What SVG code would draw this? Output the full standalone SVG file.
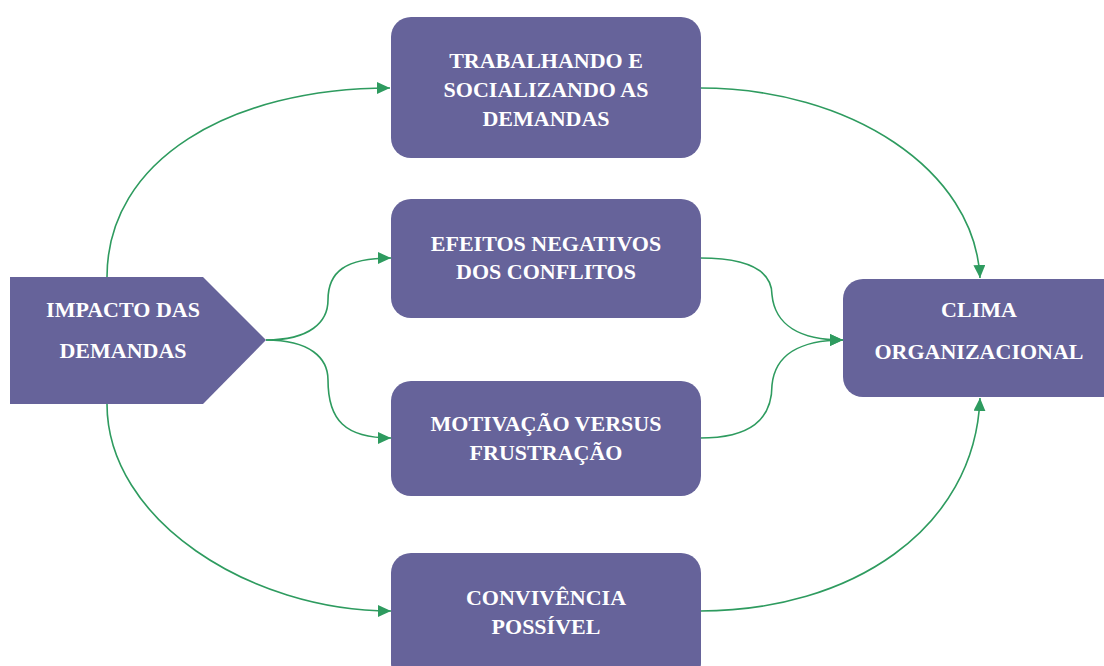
<svg xmlns="http://www.w3.org/2000/svg" width="1104" height="666" viewBox="0 0 1104 666">
<style>
.node{fill:#66639A}
.lbl{font-family:"Liberation Serif","Times New Roman",serif;font-weight:bold;font-size:22px;fill:#ffffff;text-anchor:middle}
.con{fill:none;stroke:#2E9B5F;stroke-width:1.6}
</style>
<defs>
<marker id="arr" markerWidth="14" markerHeight="12" refX="13" refY="6" orient="auto" markerUnits="userSpaceOnUse">
<path d="M0,0 L13,6 L0,12 Z" fill="#2E9B5F"/>
</marker>
</defs>
<rect width="1104" height="666" fill="#ffffff"/>
<g id="connectors">
<path class="con" marker-end="url(#arr)" d="M107,277 C107,160 230,88 390,88"/>
<path class="con" marker-end="url(#arr)" d="M700,88 C850,88 975,170 980,278"/>
<path class="con" marker-end="url(#arr)" d="M266,340 C310,340 328,322 328,300 C328,272 345,258 391,258"/>
<path class="con" marker-end="url(#arr)" d="M266,340 C310,340 328,358 328,380 C328,420 345,438 391,438"/>
<path class="con" marker-end="url(#arr)" d="M700,258 C750,258 772,272 772,295 C775,325 800,340 843,340"/>
<path class="con" marker-end="url(#arr)" d="M700,438 C750,438 772,420 772,385 C775,355 800,340 843,340"/>
<path class="con" marker-end="url(#arr)" d="M107,404 C107,520 250,611 391,611"/>
<path class="con" marker-end="url(#arr)" d="M700,611 C850,611 975,530 980,398"/>
</g>
<g id="impacto">
<polygon class="node" points="10,277 203,277 266,340 203,404 10,404"/>
<text class="lbl" x="123" y="317">IMPACTO DAS</text>
<text class="lbl" x="123" y="358">DEMANDAS</text>
</g>
<g id="trabalhando">
<rect class="node" x="391" y="17" width="310" height="141" rx="20"/>
<text class="lbl" x="546" y="68">TRABALHANDO E</text>
<text class="lbl" x="546" y="97">SOCIALIZANDO AS</text>
<text class="lbl" x="546" y="126">DEMANDAS</text>
</g>
<g id="efeitos">
<rect class="node" x="391" y="199" width="310" height="119" rx="20"/>
<text class="lbl" x="546" y="251">EFEITOS NEGATIVOS</text>
<text class="lbl" x="546" y="279">DOS CONFLITOS</text>
</g>
<g id="motivacao">
<rect class="node" x="391" y="381" width="310" height="115" rx="20"/>
<text class="lbl" x="546" y="431">MOTIVAÇÃO VERSUS</text>
<text class="lbl" x="546" y="460">FRUSTRAÇÃO</text>
</g>
<g id="convivencia">
<rect class="node" x="391" y="553" width="310" height="130" rx="20"/>
<text class="lbl" x="546" y="605">CONVIVÊNCIA</text>
<text class="lbl" x="546" y="634">POSSÍVEL</text>
</g>
<g id="clima">
<rect class="node" x="843" y="279" width="280" height="118" rx="20"/>
<text class="lbl" x="979" y="317">CLIMA</text>
<text class="lbl" x="979" y="359">ORGANIZACIONAL</text>
</g>
</svg>
